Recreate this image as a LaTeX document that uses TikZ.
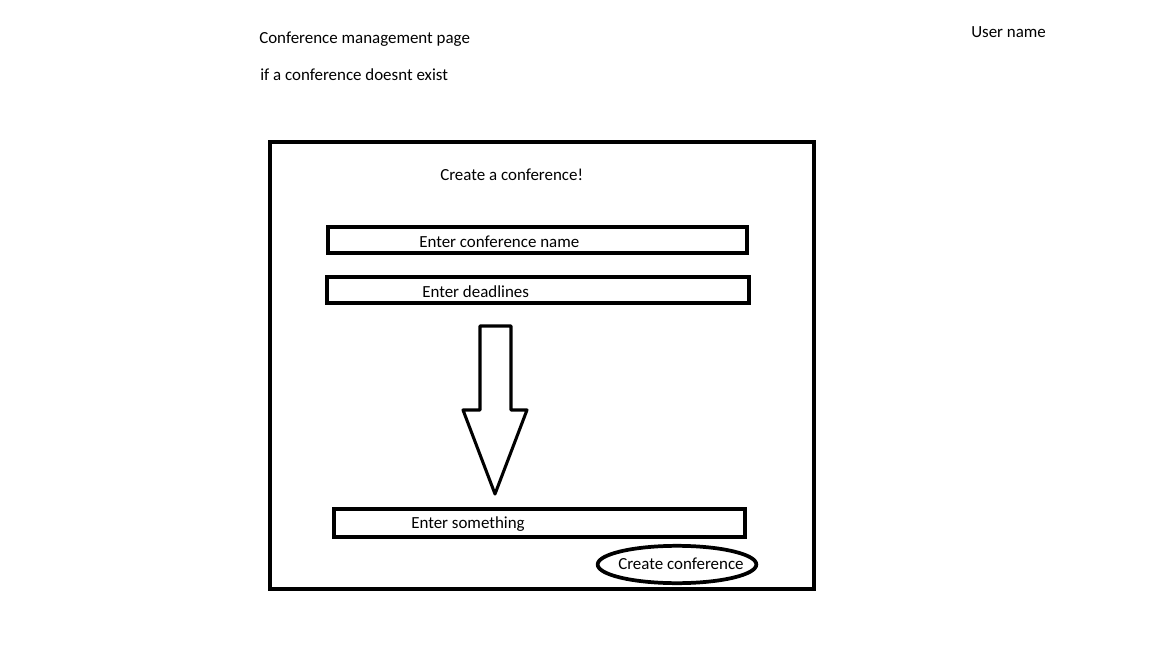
\documentclass[tikz,border=0pt]{standalone}
\usepackage{fontspec}
\setmainfont{Carlito}
\usetikzlibrary{shapes.geometric}
\begin{document}
\begin{tikzpicture}[x=0.75pt,y=-0.75pt,
  txt/.style={anchor=west,inner sep=0pt,font=\fontsize{12.7}{15}\selectfont},
  field/.style={draw,line width=3pt,minimum height=19.5pt,inner sep=0pt},
  outerbox/.style={draw,line width=3pt,inner sep=0pt},
  btn/.style={draw,ellipse,line width=2.8pt,inner sep=0pt,minimum width=119pt,minimum height=28pt},
  bigarrow/.style={draw,line width=2.3pt,line join=round}]
\useasboundingbox (0,0) rectangle (1152,648);
\node[txt] (title) at (259,39.5) {Conference management page};
\node[txt] (cond) at (260,74.5) {if a conference doesnt exist};
\node[txt] (user) at (971,32.5) {User name};
\node[outerbox,minimum width=408pt,minimum height=335.25pt] (frame) at (542,365.5) {};
\node[txt] (create) at (440,174.5) {Create a conference!};
\node[field,minimum width=314.25pt] (name) at (537.5,240) {};
\node[txt] (namet) at (419,241.5) {Enter conference name};
\node[field,minimum width=316.5pt] (dead) at (538,290) {};
\node[txt] (deadt) at (422,291.5) {Enter deadlines};
\node[field,minimum width=308.25pt,minimum height=21pt] (some) at (539.5,523) {};
\node[txt] (somet) at (411,524.5) {Enter something};
\node[btn] (btn) at (677,564.5) {};
\node[txt] (btnt) at (618,563.5) {Create conference};
\draw[bigarrow] (480,326) -- (511,326) -- (511,410) -- (527,410) -- (495,494) -- (463,410) -- (480,410) -- cycle;
\end{tikzpicture}
\end{document}
